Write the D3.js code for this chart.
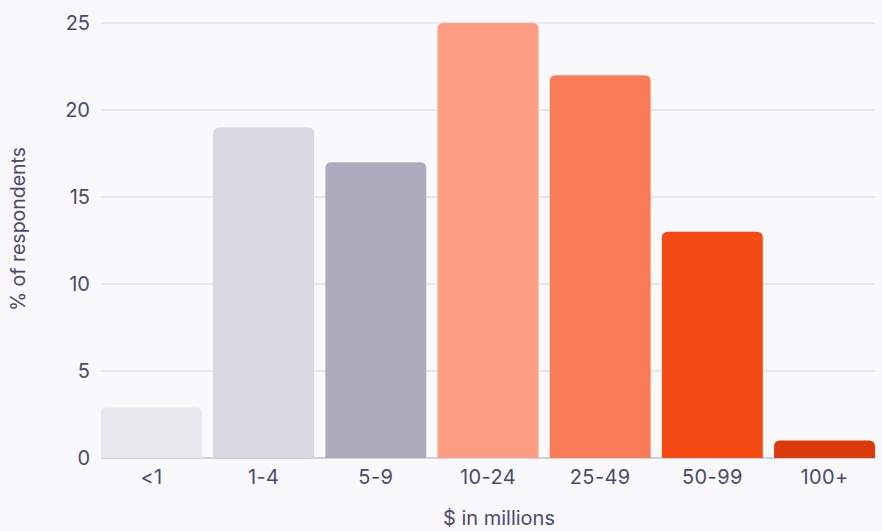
<!DOCTYPE html>
<html>
<head>
<meta charset="utf-8">
<script src="https://cdn.jsdelivr.net/npm/d3@7"></script>
<style>
  html, body { margin: 0; padding: 0; background: #f9f9fc; overflow: hidden; }
  svg { display: block; font-family: "Inter", "Open Sans", sans-serif; }
</style>
</head>
<body>
<div id="chart"></div>
<script>
// Categories and values
var categories = ["<1", "1-4", "5-9", "10-24", "25-49", "50-99", "100+"];
var values = [2.9, 19, 17, 25, 22, 13, 1];
var barColors = ["#e8e7ee", "#d8d8e2", "#adacbe", "#fd9c81", "#f97b58", "#f64a14", "#dc3a0a"];
var yTicks = [0, 5, 10, 15, 20, 25];

var width = 882, height = 531;
var margin = { top: 23, right: 7, bottom: 73, left: 101 };
var innerWidth = width - margin.left - margin.right;
var innerHeight = height - margin.top - margin.bottom;

var textColor = "#4b4a6e";

var svg = d3.select("#chart")
    .append("svg")
    .attr("width", width)
    .attr("height", height);

var g = svg.append("g")
    .attr("transform", `translate(${margin.left}, ${margin.top})`);

var x = d3.scaleBand()
    .domain(categories)
    .range([0, innerWidth])
    .paddingInner(0.1)
    .paddingOuter(0);

var y = d3.scaleLinear()
    .domain([0, 25])
    .range([innerHeight, 0]);

// Gridlines
g.append("g")
    .selectAll("line")
    .data(yTicks.slice(1))
    .join("line")
    .attr("x1", 0)
    .attr("x2", innerWidth)
    .attr("y1", d => y(d))
    .attr("y2", d => y(d))
    .attr("stroke", "#d6d5e0")
    .attr("stroke-width", 1);

// Baseline
g.append("line")
    .attr("x1", 0)
    .attr("x2", innerWidth)
    .attr("y1", y(0))
    .attr("y2", y(0))
    .attr("stroke", "#a9a7c0")
    .attr("stroke-width", 1);

// Bars with rounded tops
var r = 6;
function barPath(d, i) {
    var x0 = x(categories[i]), x1 = x0 + x.bandwidth();
    var y0 = y(0), y1 = y(d);
    var rr = Math.min(r, (y0 - y1) / 2, x.bandwidth() / 2);
    return `M${x0},${y0}V${y1 + rr}Q${x0},${y1} ${x0 + rr},${y1}` +
        `H${x1 - rr}Q${x1},${y1} ${x1},${y1 + rr}V${y0}Z`;
}

g.append("g")
    .selectAll("path")
    .data(values)
    .join("path")
    .attr("d", barPath)
    .attr("fill", (d, i) => barColors[i]);

// Y axis labels
var yAxis = g.append("g")
    .call(d3.axisLeft(y).tickValues(yTicks).tickSize(0).tickPadding(11));
yAxis.select(".domain").remove();
yAxis.selectAll("text")
    .attr("fill", textColor)
    .style("font-size", "20px")
    .style("font-family", "Inter, 'Open Sans', sans-serif");

// X axis labels
var xAxis = g.append("g")
    .attr("transform", `translate(0, ${innerHeight})`)
    .call(d3.axisBottom(x).tickSize(0).tickPadding(12));
xAxis.select(".domain").remove();
xAxis.selectAll("text")
    .attr("fill", textColor)
    .style("font-size", "20px")
    .style("letter-spacing", "0.4px")
    .style("font-family", "Inter, 'Open Sans', sans-serif");

// Axis titles
svg.append("text")
    .attr("x", 499)
    .attr("y", 525)
    .attr("text-anchor", "middle")
    .attr("fill", textColor)
    .style("font-size", "20px")
    .text("$ in millions");

svg.append("text")
    .attr("transform", "rotate(-90)")
    .attr("x", -229)
    .attr("y", 25)
    .attr("text-anchor", "middle")
    .attr("fill", textColor)
    .style("font-size", "19.5px")
    .text("% of respondents");
</script>
</body>
</html>
